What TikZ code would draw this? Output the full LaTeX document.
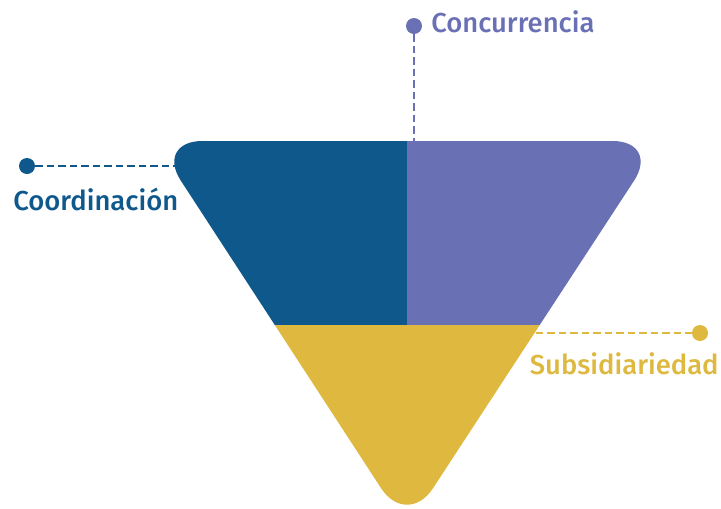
\documentclass[tikz,border=0pt]{standalone}
\usepackage{fontspec}
\setmainfont{Fira Sans}[UprightFont={* Medium}]
\usepackage{tikz}
\definecolor{coordblue}{RGB}{15,88,140}
\definecolor{concpurple}{RGB}{106,112,180}
\definecolor{subsyellow}{RGB}{222,184,63}

\begin{document}
\begin{tikzpicture}[x=0.02cm,y=-0.02cm,dot node/.style={circle,fill,inner sep=0pt,minimum size=0.32cm},label node/.style={inner sep=0pt,font=\fontsize{15.6}{18}\selectfont},link/.style={line width=1.25pt,dash pattern=on 0.15cm off 0.08cm}]
    \useasboundingbox (0,0) rectangle (721,508);
    % rounded triangle split in three parts
    \begin{scope}
      \clip[rounded corners=0.95cm] (155,141) -- (660,141) -- (407,528) -- cycle;
      \fill[coordblue] (100,100) rectangle (407,325);
      \fill[concpurple] (407,100) rectangle (700,325);
      \fill[subsyellow] (100,325) rectangle (700,560);
    \end{scope}
    \node[dot node,coordblue] (coorddot) at (27,166) {};
    \coordinate (coordend) at (179,166);
    \draw[link,coordblue] (coorddot) -- (coordend);
    \node[label node,coordblue,anchor=west] (coordlabel) at (13,199) {Coordinación};
    \node[dot node,concpurple] (concdot) at (414,26) {};
    \coordinate (concend) at (414,141);
    \draw[link,concpurple] (concdot) -- (concend);
    \node[label node,concpurple,anchor=west] (conclabel) at (431,22) {Concurrencia};
    \node[dot node,subsyellow] (subsdot) at (700,333) {};
    \coordinate (subsstart) at (513,333);
    \draw[link,subsyellow] (subsstart) -- (subsdot);
    \node[label node,subsyellow,anchor=east] (subslabel) at (719,364) {Subsidiariedad};
\end{tikzpicture}
\end{document}
